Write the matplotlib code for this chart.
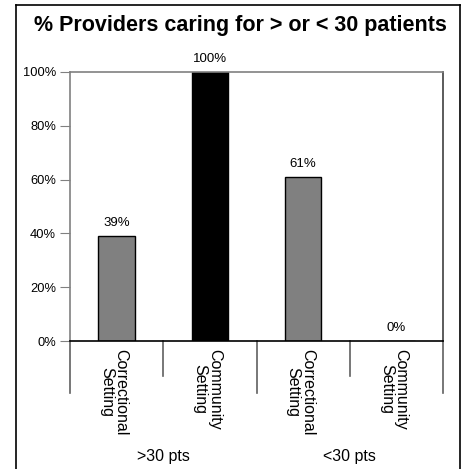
import matplotlib
matplotlib.use("Agg")
import matplotlib.pyplot as plt
from matplotlib.lines import Line2D

plt.rcParams["font.family"] = ["Liberation Sans", "DejaVu Sans"]

# data
categories = ["Correctional\nSetting", "Community\nSetting",
              "Correctional\nSetting", "Community\nSetting"]
values = [39, 100, 61, 0]
bar_colors = ["#808080", "#000000", "#808080", "#808080"]
groups = [">30 pts", "<30 pts"]
yticks = [0, 20, 40, 60, 80, 100]

fig = plt.figure(figsize=(4.63, 4.69), dpi=100)
ax = fig.add_axes([70 / 463, 1 - 341 / 469, 373 / 463, 269 / 469])

x = list(range(len(values)))
ax.bar(x, values, width=0.39, color=bar_colors, edgecolor="black", linewidth=1)

for xi, v in zip(x, values):
    ax.text(xi, v + 2.5, f"{v}%", ha="center", va="bottom", fontsize=9.5)

ax.set_xlim(-0.5, 3.5)
ax.set_ylim(0, 100)
ax.set_yticks(yticks)
ax.set_yticklabels([f"{t}%" for t in yticks], fontsize=9.3)
ax.tick_params(axis="y", length=7, color="#808080", pad=3)
ax.set_xticks([])

ax.spines["left"].set_color("#808080")
ax.spines["top"].set_color("#808080")
ax.spines["right"].set_color("#404040")
ax.spines["bottom"].set_color("black")
for s in ax.spines.values():
    s.set_linewidth(1.2)

# category labels, rotated to read downward
for xi, lab in zip(x, categories):
    ax.text(xi - 0.03, -0.03, lab, transform=ax.get_xaxis_transform(),
            rotation=270, ha="center", va="top", fontsize=11.5,
            linespacing=0.95)

# separators below the axis: long at group edges, short between categories
trans = ax.get_xaxis_transform()
for b in [-0.5, 0.5, 1.5, 2.5, 3.5]:
    depth = -0.195 if b in (-0.5, 1.5, 3.5) else -0.13
    ax.add_line(Line2D([b, b], [0, depth], transform=trans, color="#606060",
                       linewidth=1.2, clip_on=False))

# group labels
for gi, g in enumerate(groups):
    ax.text(gi * 2 + 0.5, -0.43, g, transform=trans, ha="center",
            va="center", fontsize=11.5)

# title and outer frame
fig.text(0.5 * (35 + 445) / 463, 1 - 25 / 469,
         "% Providers caring for > or < 30 patients",
         ha="center", va="center", fontsize=15.5, fontweight="bold")
for xs, ys in [([16 / 463, 16 / 463], [0, 1 - 5 / 469]),
               ([16 / 463, 460 / 463], [1 - 5 / 469, 1 - 5 / 469]),
               ([460 / 463, 460 / 463], [0, 1 - 5 / 469])]:
    fig.add_artist(Line2D(xs, ys, transform=fig.transFigure,
                          color="black", linewidth=1.2))

fig.savefig("out.png", dpi=100)
